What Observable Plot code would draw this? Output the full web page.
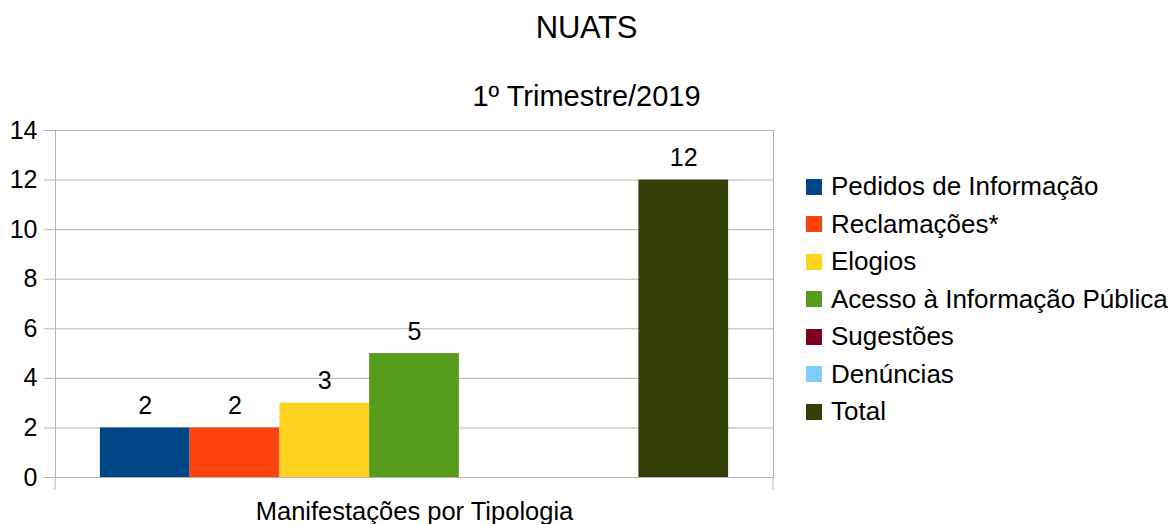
<!DOCTYPE html>
<html>
<head>
<meta charset="utf-8">
<script src="https://cdn.jsdelivr.net/npm/d3@7"></script>
<script src="https://cdn.jsdelivr.net/npm/@observablehq/plot@0.6"></script>
<style>
  html, body { margin: 0; padding: 0; background: #fff; }
  body { width: 1173px; height: 524px; position: relative; overflow: hidden; font-family: "Liberation Sans", Arial, sans-serif; color: #000; }
  .title { position: absolute; left: 0; width: 1173px; text-align: center; line-height: 1; white-space: nowrap; }
  #t1 { top: 12px; font-size: 31px; letter-spacing: -0.3px; }
  #t2 { top: 82px; font-size: 29px; }
  #chart { position: absolute; left: 0; top: 110px; }
  #legend { position: absolute; left: 806px; top: 168px; font-size: 26px; }
  .row { display: flex; align-items: center; height: 37.5px; white-space: nowrap; }
  .sw { width: 16px; height: 16px; margin-right: 9px; flex: none; }
</style>
</head>
<body>
<div class="title" id="t1"></div>
<div class="title" id="t2"></div>
<div id="chart"></div>
<div id="legend"></div>
<script>
const title = "NUATS";
const subtitle = "1º Trimestre/2019";
const xLabel = "Manifestações por Tipologia";
const categories = ["Pedidos de Informação", "Reclamações*", "Elogios", "Acesso à Informação Pública", "Sugestões", "Denúncias", "Total"];
const values = [2, 2, 3, 5, 0, 0, 12];
const colors = ["#004586", "#ff420e", "#ffd320", "#579d1c", "#7e0021", "#83caff", "#314004"];
const yTicks = [0, 2, 4, 6, 8, 10, 12, 14];

document.getElementById("t1").textContent = title;
document.getElementById("t2").textContent = subtitle;

const data = categories.map((c, i) => ({name: c, value: values[i]}));
const grid = "#b3b3b3";

const edgeTicks = (index, scales, values, dims) => {
  const g = d3.create("svg:g").attr("stroke", grid).attr("stroke-width", 1);
  const yb = dims.height - dims.marginBottom;
  for (const x of [dims.marginLeft, dims.width - dims.marginRight]) {
    g.append("line").attr("x1", x).attr("x2", x).attr("y1", yb).attr("y2", yb + 13);
  }
  return g.node();
};

const chart = Plot.plot({
  width: 790,
  height: 414,
  marginLeft: 55,
  marginRight: 17,
  marginTop: 20,
  marginBottom: 47,
  style: {fontFamily: "Liberation Sans, Arial, sans-serif", fontSize: "25px", color: "#000", background: "transparent", overflow: "visible"},
  x: {domain: categories, paddingInner: 0, paddingOuter: 0.5, round: false, axis: null},
  y: {domain: [0, 14], ticks: yTicks, axis: null},
  color: {domain: categories, range: colors},
  marks: [
    Plot.ruleY(yTicks, {stroke: grid, strokeOpacity: 1}),
    Plot.axisY({ticks: yTicks, tickSize: 11, tickPadding: 7, stroke: grid, fontSize: 25, fill: "#000", label: null}),
    Plot.frame({stroke: grid}),
    edgeTicks,
    Plot.barY(data, {x: "name", y: "value", fill: "name", inset: 0}),
    Plot.text(data.filter(d => d.value > 0), {x: "name", y: "value", text: d => String(d.value), dy: -22, fontSize: 25, fill: "#000"}),
    Plot.text([xLabel], {text: d => d, frameAnchor: "bottom", dy: 42, fontSize: 25.5, fill: "#000"})
  ]
});
document.getElementById("chart").appendChild(chart);

const legend = document.getElementById("legend");
categories.forEach((c, i) => {
  const row = document.createElement("div");
  row.className = "row";
  const sw = document.createElement("span");
  sw.className = "sw";
  sw.style.background = colors[i];
  const lab = document.createElement("span");
  lab.textContent = c;
  row.appendChild(sw);
  row.appendChild(lab);
  legend.appendChild(row);
});
</script>
</body>
</html>
